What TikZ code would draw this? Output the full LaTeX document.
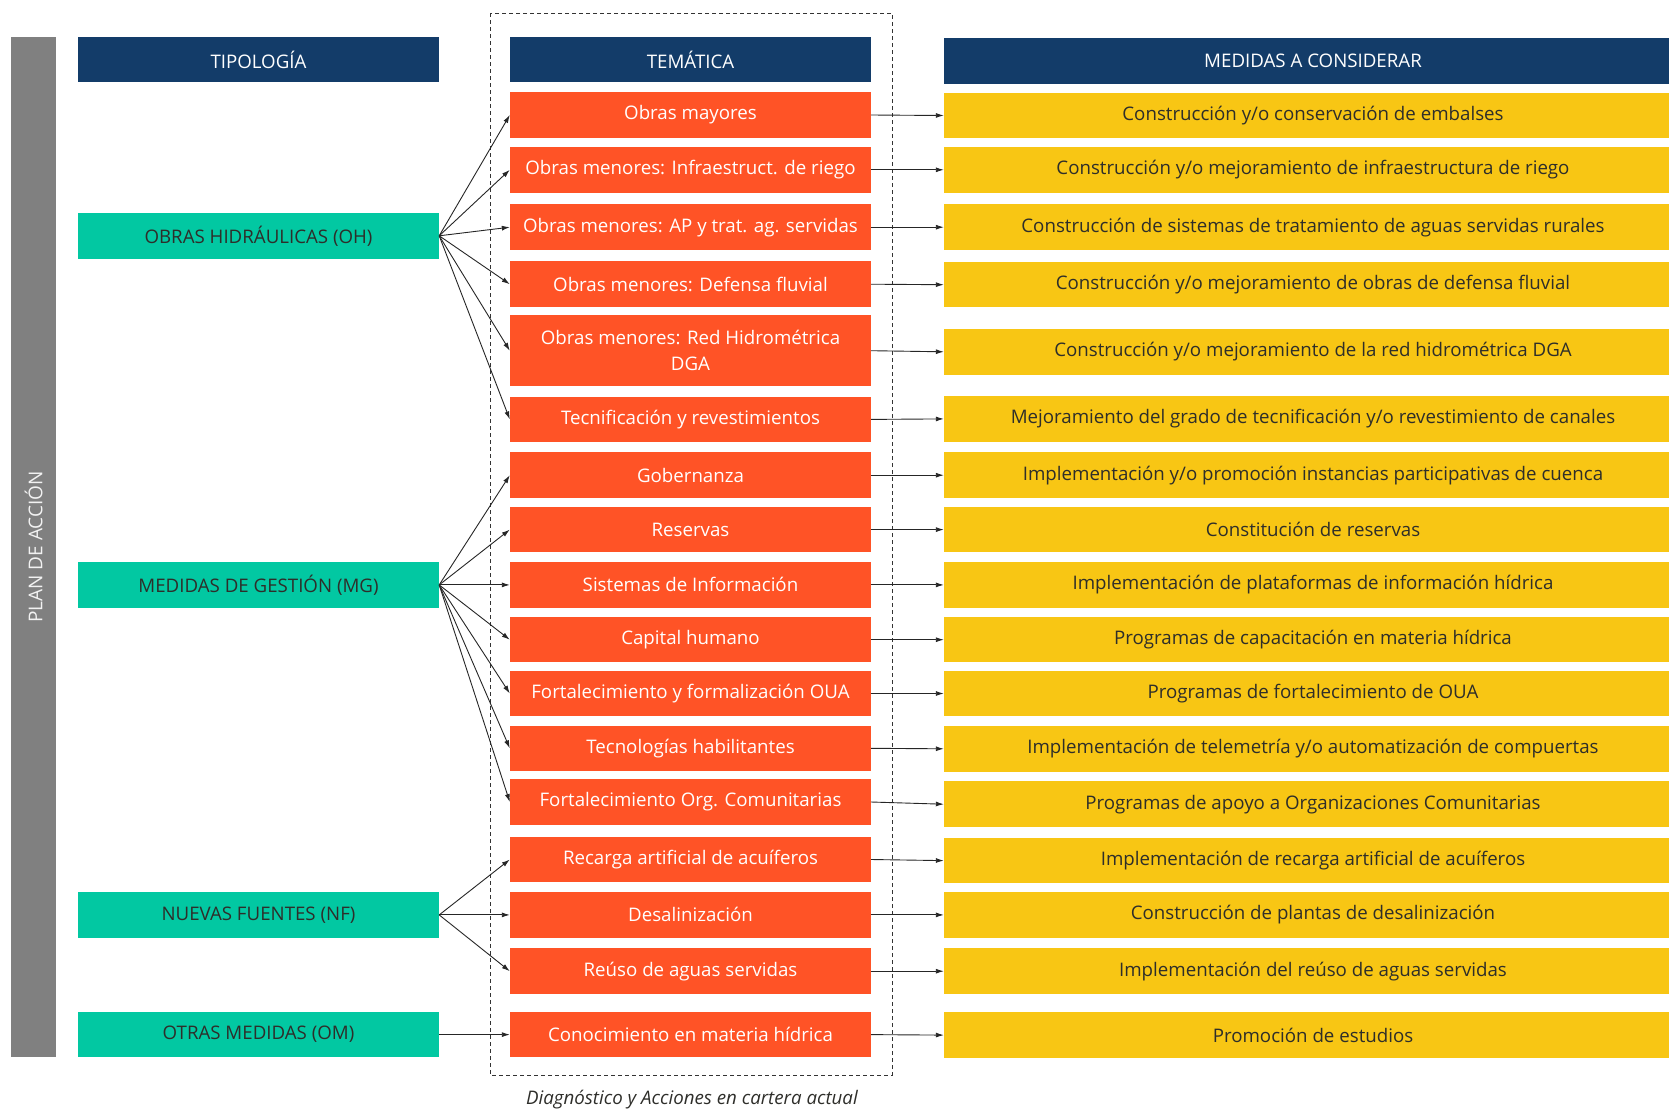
\documentclass[tikz,border=0pt]{standalone}
\usepackage{fontspec}
\setmainfont{Open Sans}
\usetikzlibrary{arrows.meta}
\definecolor{navy}{HTML}{133C69}
\definecolor{orng}{HTML}{FF5326}
\definecolor{teal2}{HTML}{02C8A2}
\definecolor{yell}{HTML}{F8C614}
\definecolor{barg}{HTML}{808080}
\definecolor{dtext}{HTML}{2E2E2A}
\begin{document}
\begin{tikzpicture}[x=1pt,y=-1pt,
  font=\fontsize{18.7}{26}\selectfont,
  box/.style={minimum height=45.5pt, inner sep=0pt, align=center},
  hbox/.style={box, fill=navy, text=white},
  gbox/.style={box, fill=teal2, text=dtext, minimum width=361pt},
  obox/.style={box, fill=orng, text=white, minimum width=361pt},
  ybox/.style={box, fill=yell, text=dtext, minimum width=738pt},
  arr/.style={-{Latex[length=8pt,width=5pt]}, line width=0.9pt, black!85},
]
\useasboundingbox (0,0) rectangle (1669,1111);

% gray side bar
\fill[barg] (11,37) rectangle (56,1057);
\node[rotate=90, text=white!90!barg, font=\fontsize{19}{24}\selectfont] (plan) at (33.5,547) {PLAN DE ACCIÓN};

% dashed frame
\draw[line width=0.9pt, black!80, dash pattern=on 4pt off 3pt] (490,13) rectangle (892,1075);
\node[font=\fontsize{18.7}{22}\selectfont\itshape, text=dtext] (cap) at (692,1100) {Diagnóstico y Acciones en cartera actual};

% headers
\node[hbox, minimum width=361pt] (h1) at (258.5,59.5) {TIPOLOGÍA};
\node[hbox, minimum width=361pt] (h2) at (690.5,59.5) {TEMÁTICA};
\node[hbox, minimum width=738pt] (h3) at (1313,61) {MEDIDAS A CONSIDERAR};

% typology
\node[gbox] (oh) at (258.5,235.8) {OBRAS HIDRÁULICAS (OH)};
\node[gbox] (mg) at (258.5,584.9) {MEDIDAS DE GESTIÓN (MG)};
\node[gbox] (nf) at (258.5,914.9) {NUEVAS FUENTES (NF)};
\node[gbox] (om) at (258.5,1034.6) {OTRAS MEDIDAS (OM)};

% themes
\node[obox] (o1) at (690.5,115) {Obras mayores};
\node[obox] (o2) at (690.5,169.8) {Obras menores: Infraestruct. de riego};
\node[obox] (o3) at (690.5,227.2) {Obras menores: AP y trat. ag. servidas};
\node[obox] (o4) at (690.5,284.2) {Obras menores: Defensa fluvial};
\node[obox, minimum height=71.4pt] (o5) at (690.5,350.7) {Obras menores: Red Hidrométrica\\DGA};
\node[obox] (o6) at (690.5,419.4) {Tecnificación y revestimientos};
\node[obox] (o7) at (690.5,475.2) {Gobernanza};
\node[obox] (o8) at (690.5,529.6) {Reservas};
\node[obox] (o9) at (690.5,584.9) {Sistemas de Información};
\node[obox] (o10) at (690.5,639.7) {Capital humano};
\node[obox] (o11) at (690.5,693.5) {Fortalecimiento y formalización OUA};
\node[obox] (o12) at (690.5,748.3) {Tecnologías habilitantes};
\node[obox] (o13) at (690.5,802) {Fortalecimiento Org. Comunitarias};
\node[obox] (o14) at (690.5,859.5) {Recarga artificial de acuíferos};
\node[obox] (o15) at (690.5,914.9) {Desalinización};
\node[obox] (o16) at (690.5,971.2) {Reúso de aguas servidas};
\node[obox] (o17) at (690.5,1034.6) {Conocimiento en materia hídrica};

% measures
\node[ybox] (y1) at (1313,115.5) {Construcción y/o conservación de embalses};
\node[ybox] (y2) at (1313,169.8) {Construcción y/o mejoramiento de infraestructura de riego};
\node[ybox] (y3) at (1313,227.2) {Construcción de sistemas de tratamiento de aguas servidas rurales};
\node[ybox] (y4) at (1313,284.7) {Construcción y/o mejoramiento de obras de defensa fluvial};
\node[ybox] (y5) at (1313,351.8) {Construcción y/o mejoramiento de la red hidrométrica DGA};
\node[ybox] (y6) at (1313,418.9) {Mejoramiento del grado de tecnificación y/o revestimiento de canales};
\node[ybox] (y7) at (1313,475.2) {Implementación y/o promoción instancias participativas de cuenca};
\node[ybox] (y8) at (1313,529.6) {Constitución de reservas};
\node[ybox] (y9) at (1313,584.9) {Implementación de plataformas de información hídrica};
\node[ybox] (y10) at (1313,639.7) {Programas de capacitación en materia hídrica};
\node[ybox] (y11) at (1313,693.5) {Programas de fortalecimiento de OUA};
\node[ybox] (y12) at (1313,748.8) {Implementación de telemetría y/o automatización de compuertas};
\node[ybox] (y13) at (1313,804.2) {Programas de apoyo a Organizaciones Comunitarias};
\node[ybox] (y14) at (1313,860.6) {Implementación de recarga artificial de acuíferos};
\node[ybox] (y15) at (1313,914.9) {Construcción de plantas de desalinización};
\node[ybox] (y16) at (1313,971.2) {Implementación del reúso de aguas servidas};
\node[ybox] (y17) at (1313,1035.1) {Promoción de estudios};

% typology -> themes
\foreach \t in {o1,o2,o3,o4,o5,o6} \draw[arr] (oh.east) -- (\t.west);
\foreach \t in {o7,o8,o9,o10,o11,o12,o13} \draw[arr] (mg.east) -- (\t.west);
\foreach \t in {o14,o15,o16} \draw[arr] (nf.east) -- (\t.west);
\draw[arr] (om.east) -- (o17.west);

% themes -> measures
\foreach \i in {1,...,17} \draw[arr] (o\i.east) -- (y\i.west);
\end{tikzpicture}
\end{document}
